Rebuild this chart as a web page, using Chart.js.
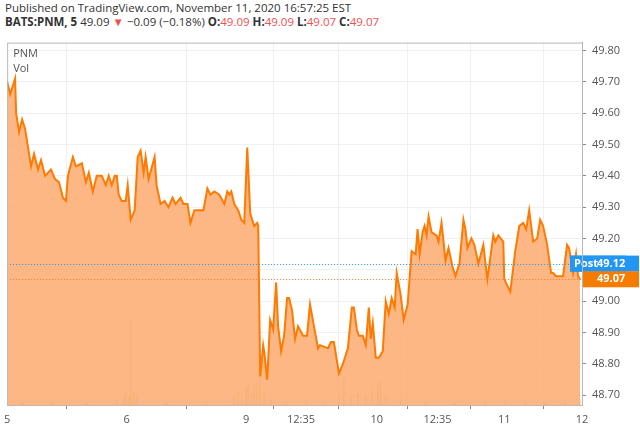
<!DOCTYPE html>
<html><head><meta charset="utf-8">
<script src="https://cdn.jsdelivr.net/npm/chart.js@4"></script>
<style>
body{margin:0;width:640px;height:434px;overflow:hidden;background:#fff;font-family:"Open Sans",Arial,sans-serif}
#hdr{height:30px;padding-left:5px;font-size:11.5px;line-height:14px;color:#333}
#wrap{position:relative;width:640px;height:404px}
.r{color:#f05050}
</style></head><body>
<div id="hdr"><div style="padding-top:1px">Published on TradingView.com, November 11, 2020 16:57:25 EST</div>
<div><b>BATS:PNM, 5</b> 49.09 <span class="r">▼</span> −0.09 (−0.18%) <b>O:</b><span class="r">49.09</span> <b>H:</b><span class="r">49.09</span> <b>L:</b><span class="r">49.07</span> <b>C:</b><span class="r">49.07</span></div></div>
<div id="wrap"><canvas id="c"></canvas></div>
<script>
const positions=[0,3,8,9,12,15,18,21,24,27,31,34,38,44,48,52,56,59,61,66,69,75,79,82,86,90,95,99,102,105,108,110,112,115,119,121,124,128,131,134,137,139,142,148,150,154,158,162,166,169,174,177,181,184,188,197,201,204,208,213,218,221,223,225,228,232,235,238,241,244,248,251,252,254,257,258,261,264,267,270,272,275,278,281,283,286,289,292,297,301,304,308,312,314,322,325,328,333,337,340,342,346,348,351,353,357,360,363,365,367,370,373,377,380,383,386,389,391,395,398,402,406,410,412,414,417,419,421,423,426,431,433,436,440,443,447,450,454,458,460,462,466,469,473,478,482,488,490,493,498,499,505,510,514,518,521,524,528,532,535,538,542,546,548,551,554,558,562,564,568,571,573,575];
const prices=[49.70,49.66,49.71,49.60,49.54,49.58,49.55,49.49,49.43,49.47,49.42,49.45,49.40,49.42,49.39,49.38,49.33,49.32,49.40,49.46,49.43,49.44,49.38,49.41,49.35,49.40,49.40,49.37,49.40,49.37,49.40,49.40,49.34,49.32,49.32,49.37,49.26,49.29,49.46,49.48,49.41,49.46,49.39,49.46,49.37,49.31,49.32,49.30,49.33,49.31,49.33,49.31,49.31,49.25,49.29,49.29,49.36,49.34,49.35,49.34,49.31,49.35,49.34,49.35,49.31,49.29,49.26,49.25,49.49,49.28,49.24,49.25,49.24,48.76,48.86,48.84,48.75,48.94,48.91,49.06,48.92,48.84,48.89,49.01,49.01,48.97,48.88,48.92,48.89,48.89,48.99,48.92,48.85,48.86,48.85,48.87,48.87,48.77,48.80,48.83,48.85,48.98,48.98,48.91,48.89,48.89,48.86,48.98,48.88,48.93,48.82,48.82,48.84,49.00,48.96,49.01,48.98,49.09,49.02,48.94,48.99,49.16,49.15,49.23,49.15,49.22,49.24,49.21,49.27,49.22,49.21,49.19,49.25,49.13,49.17,49.11,49.08,49.12,49.26,49.23,49.17,49.20,49.18,49.12,49.18,49.07,49.21,49.19,49.21,49.19,49.07,49.03,49.16,49.24,49.25,49.23,49.29,49.19,49.20,49.26,49.24,49.18,49.09,49.09,49.08,49.08,49.08,49.18,49.17,49.09,49.15,49.08,49.07];
const volPositions=[15,45,80,110,117,119,122,124,127,130,160,200,228,232,236,240,242,245,248,251,254,258,265,280,300,318,333,338,345,352,360,366,372,375,380,395,420,450,480,500,520,540,560,575];
const volumes=[3,2,3,5,8,12,10,95,14,8,3,4,10,14,8,18,22,12,24,26,30,14,6,4,5,4,10,30,8,12,10,16,22,26,10,6,4,3,4,6,5,3,3,6];
const tickPositions=[0,120,240,295,371,432,499,577];
const tickLabels=["5","6","9","12:35","10","12:35","11","12"];
const yTicks=[48.7,48.8,48.9,49.0,49.1,49.2,49.3,49.4,49.5,49.6,49.7,49.8];
const postPrice=49.12, lastPrice=49.07;

const pricePts=positions.map((x,i)=>({x,y:prices[i]}));
const volPts=volPositions.map((x,i)=>({x,y:volumes[i]}));

const overlay={id:'ov',afterDatasetsDraw(ch){
 const c=ch.ctx,a=ch.chartArea,y=ch.scales.y;
 c.save();
 [[postPrice,'#2196f3'],[lastPrice,'#ff7a1a']].forEach(([v,col])=>{
  const py=Math.round(y.getPixelForValue(v))+0.5;
  c.strokeStyle=col;c.lineWidth=1;c.setLineDash([1,2]);
  c.beginPath();c.moveTo(a.left,py);c.lineTo(a.right,py);c.stroke();
 });
 c.setLineDash([]);
 c.font='bold 11px "Open Sans",Arial';c.textBaseline='middle';
 let py=y.getPixelForValue(postPrice);
 c.fillStyle='#2196f3';c.fillRect(a.right-12,py-8,56+12+1,16);
 c.fillRect(a.right-12,py-8,56,16);
 c.fillStyle='#fff';c.textAlign='left';c.fillText('Post',a.right-8,py);
 c.fillText(postPrice.toFixed(2),a.right+15,py);
 py=y.getPixelForValue(lastPrice);
 c.fillStyle='#f57c00';c.fillRect(a.right+1,py-8,56,16);
 c.fillStyle='#fff';c.fillText(lastPrice.toFixed(2),a.right+15,py);
 c.fillStyle='#555';c.font='11px "Open Sans",Arial';c.textBaseline='top';
 c.fillText('PNM',a.left+6,a.top+6);c.fillText('Vol',a.left+6,a.top+21);
 c.strokeStyle='#b8b8b8';c.lineWidth=1;
 c.strokeRect(a.left+0.5,a.top+0.5,a.right-a.left,a.bottom-a.top);
 c.restore();
}};

new Chart(document.getElementById('c'),{
 data:{datasets:[
  {type:'line',data:pricePts,borderColor:'#ff7a00',borderWidth:2,backgroundColor:'rgba(253,170,110,0.85)',fill:'start',pointRadius:0,tension:0,yAxisID:'y'},
  {type:'bar',data:volPts,backgroundColor:'rgba(205,170,110,0.45)',barThickness:1,yAxisID:'yv'}
 ]},
 options:{responsive:true,maintainAspectRatio:false,animation:false,
  layout:{padding:{left:5,top:0,right:0,bottom:0}},
  plugins:{legend:{display:false},tooltip:{enabled:false}},
  scales:{
   x:{type:'linear',min:0,max:577,offset:false,
     afterBuildTicks(s){s.ticks=tickPositions.map(v=>({value:v}));},
     afterFit(s){s.height=29;},
     ticks:{autoSkip:false,maxRotation:0,color:'#555',font:{size:11,family:'"Open Sans",Arial'},padding:4,
       callback:(v)=>{const i=tickPositions.indexOf(v);return i<0?'':tickLabels[i];}},
     grid:{color:'#eef0f3',drawTicks:true,tickLength:4,tickColor:'#888'},border:{color:'#999'}},
   y:{position:'right',min:48.669,max:49.825,
     afterBuildTicks(s){s.ticks=yTicks.map(v=>({value:v}));},
     afterFit(s){s.width=58;},
     ticks:{color:'#555',font:{size:11,family:'"Open Sans",Arial'},padding:6,callback:v=>v.toFixed(2)},
     grid:{color:'#eef0f3',drawTicks:true,tickLength:4,tickColor:'#888'},border:{color:'#999'}},
   yv:{display:false,min:0,max:400}
  }}
 ,plugins:[overlay]});
</script></body></html>
